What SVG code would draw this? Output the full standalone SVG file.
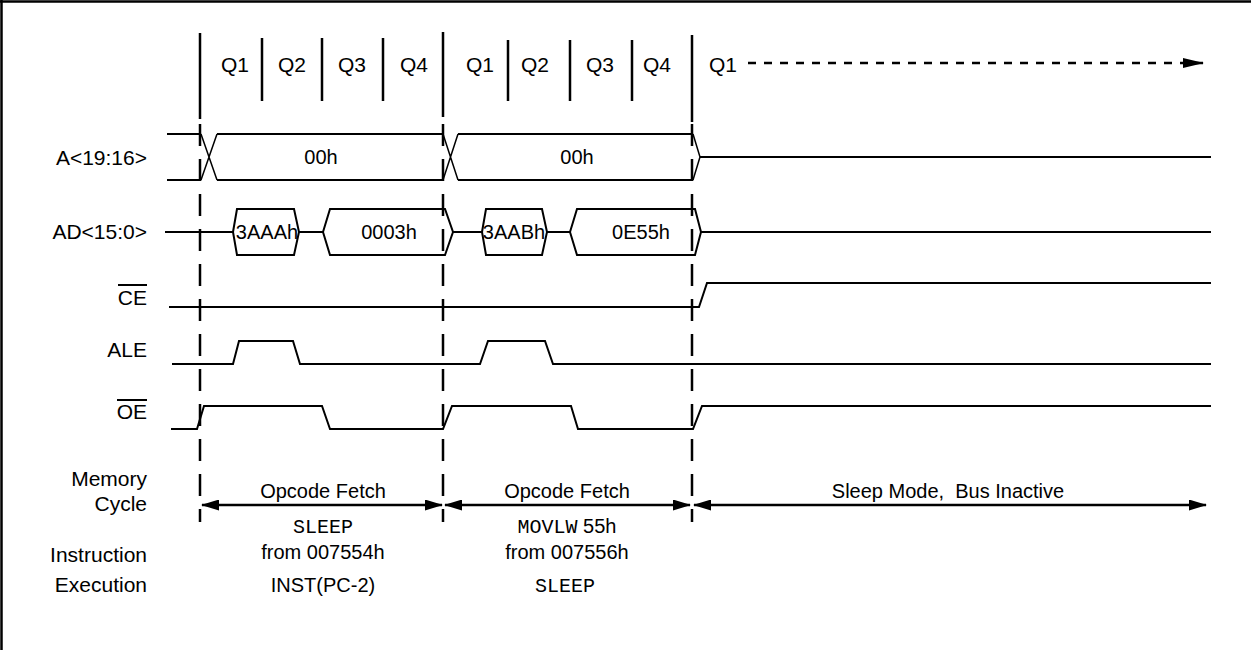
<svg xmlns="http://www.w3.org/2000/svg" width="1251" height="657" viewBox="0 0 1251 657">
<style>
text{font-family:"Liberation Sans",Arial,sans-serif;fill:#000}
.lbl{font-size:21px;text-anchor:end}
.q{font-size:21px;text-anchor:middle}
.v{font-size:20px;text-anchor:middle}
.m{font-size:20px;text-anchor:middle}
.mono{font-family:"Liberation Mono","Courier New",monospace}
.w{fill:none;stroke:#000;stroke-width:2;stroke-linejoin:miter}
.t{fill:none;stroke:#000;stroke-width:1.5}
.grid{stroke:#000;stroke-width:2.5;fill:none}
.dv{stroke:#000;stroke-width:2.5;stroke-dasharray:22 13;fill:none}
.arr{stroke:#000;stroke-width:2.5;fill:none;marker-start:url(#ah);marker-end:url(#ah)}
</style>
<defs>
<marker id="ah" viewBox="0 0 18 11" refX="17" refY="5.5" markerWidth="18" markerHeight="11" orient="auto-start-reverse" markerUnits="userSpaceOnUse"><path d="M0,0 L18,5.5 L0,11 Z" fill="#000"/></marker>
<marker id="ah2" viewBox="0 0 21 10" refX="20" refY="5" markerWidth="21" markerHeight="10" orient="auto" markerUnits="userSpaceOnUse"><path d="M0,0 L21,5 L0,10 Z" fill="#000"/></marker>
</defs>
<rect width="1251" height="657" fill="#fff"/>
<g id="frame">
<path d="M0,1.5 H1251 M1.5,0 V650" stroke="#000" stroke-width="2.5" fill="none"/>
</g>
<g id="quarters">
<path class="grid" d="M200,33 V119 M443,32 V117 M692,35 V122 M262,38 V101 M322,38 V101 M383,38 V101 M508,40 V101 M570,40 V101 M632,40 V101"/>
<text class="q" x="235" y="72">Q1</text>
<text class="q" x="292" y="72">Q2</text>
<text class="q" x="352" y="72">Q3</text>
<text class="q" x="414" y="72">Q4</text>
<text class="q" x="480" y="72">Q1</text>
<text class="q" x="535" y="72">Q2</text>
<text class="q" x="600" y="72">Q3</text>
<text class="q" x="657" y="72">Q4</text>
<text class="q" x="723" y="72">Q1</text>
<line x1="748" y1="63" x2="1203" y2="63" stroke="#000" stroke-width="2.5" stroke-dasharray="8 8" marker-end="url(#ah2)"/>
</g>
<g id="connectors">
<line class="dv" x1="200" y1="124" x2="200" y2="522"/>
<line class="dv" x1="443" y1="124" x2="443" y2="522"/>
<line class="dv" x1="692" y1="124" x2="692" y2="522"/>
</g>
<g id="sig-A">
<text class="lbl" x="147" y="165">A&lt;19:16&gt;</text>
<path class="w" d="M167,134 H201 M167,180 H201 M217,134 H443 M217,180 H443 M458,134 H693 M458,180 H693 M700,157 H1211"/>
<path class="t" d="M201,134 L217,180 M201,180 L217,134 M443,134 L458,180 M443,180 L458,134 M693,134 L700,157 L693,180"/>
<text class="v" x="321" y="164">00h</text>
<text class="v" x="577" y="164">00h</text>
</g>
<g id="sig-AD">
<text class="lbl" x="147" y="239">AD&lt;15:0&gt;</text>
<path class="w" d="M165,232 H233 M299,232 H323 M453,232 H482 M547,232 H570 M701,232 H1211"/>
<path class="w" d="M233,232 L237,209 H294 L299,232 L294,255 H237 Z"/>
<path class="w" d="M323,232 L330,209 H445 L453,232 L445,255 H330 Z"/>
<path class="w" d="M482,232 L486,209 H542 L547,232 L542,255 H486 Z"/>
<path class="w" d="M570,232 L577,209 H695 L701,232 L695,255 H577 Z"/>
<text class="v" x="267" y="239">3AAAh</text>
<text class="v" x="389" y="239">0003h</text>
<text class="v" x="514" y="239">3AABh</text>
<text class="v" x="641" y="239">0E55h</text>
</g>
<g id="sig-CE">
<text class="lbl" x="147" y="305">CE</text>
<line x1="118" y1="285" x2="147" y2="285" stroke="#000" stroke-width="2"/>
<path class="w" d="M169,307 H699 L707,283 H1211"/>
</g>
<g id="sig-ALE">
<text class="lbl" x="147" y="357">ALE</text>
<path class="w" d="M172,364 H233 L239,341 H293 L300,364 H480 L488,341 H545 L553,364 H1211"/>
</g>
<g id="sig-OE">
<text class="lbl" x="147" y="419">OE</text>
<line x1="117" y1="400" x2="147" y2="400" stroke="#000" stroke-width="2"/>
<path class="w" d="M171,429 H197 L204,406 H322 L330,429 H443 L452,406 H571 L578,429 H693 L702,406 H1211"/>
</g>
<g id="memory-cycle">
<text class="lbl" x="147" y="486">Memory</text>
<text class="lbl" x="147" y="511">Cycle</text>
<line class="arr" x1="202" y1="505" x2="442" y2="505"/>
<line class="arr" x1="445" y1="505" x2="690" y2="505"/>
<line class="arr" x1="694" y1="505" x2="1206" y2="505"/>
<text class="m" x="323" y="498">Opcode Fetch</text>
<text class="m mono" x="323" y="533">SLEEP</text>
<text class="m" x="323" y="559">from 007554h</text>
<text class="m" x="567" y="498">Opcode Fetch</text>
<text class="m" x="567" y="533"><tspan class="mono">MOVLW</tspan> 55h</text>
<text class="m" x="567" y="559">from 007556h</text>
<text class="m" x="948" y="498" xml:space="preserve">Sleep Mode,  Bus Inactive</text>
</g>
<g id="instruction-exec">
<text class="lbl" x="147" y="562">Instruction</text>
<text class="lbl" x="147" y="592">Execution</text>
<text class="m" x="323" y="592">INST(PC-2)</text>
<text class="m mono" x="565" y="592">SLEEP</text>
</g>
</svg>
